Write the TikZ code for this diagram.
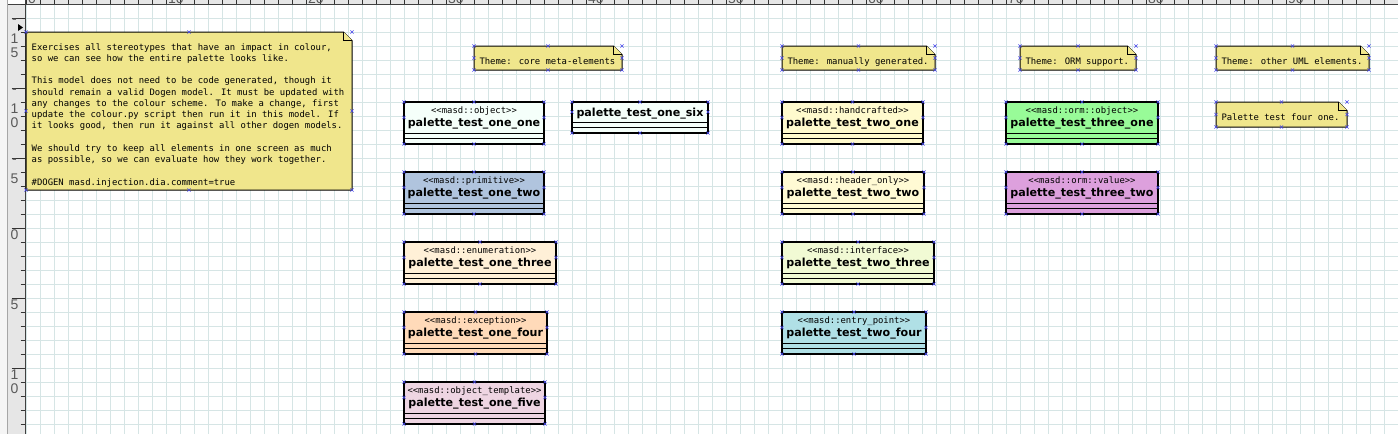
\documentclass[tikz,border=0pt]{standalone}
\usepackage{fontspec}
\usetikzlibrary{calc}
\newfontfamily\diamono{DejaVu Sans Mono}[Ligatures=TeXOff]
\newfontfamily\diasans{DejaVu Sans}
\newfontfamily\rulerfont{Liberation Sans}
\definecolor{gridc}{RGB}{214,229,229}
\definecolor{notec}{RGB}{240,230,140}
\definecolor{cpc}{RGB}{70,70,235}
\definecolor{rulerbg}{RGB}{230,230,230}
\definecolor{cObject}{RGB}{245,255,250}
\definecolor{cPrimitive}{RGB}{176,196,222}
\definecolor{cEnum}{RGB}{255,240,215}
\definecolor{cExcept}{RGB}{255,218,185}
\definecolor{cTemplate}{RGB}{238,213,226}
\definecolor{cHand}{RGB}{255,250,205}
\definecolor{cHeader}{RGB}{255,250,212}
\definecolor{cIface}{RGB}{241,250,212}
\definecolor{cEntry}{RGB}{176,224,230}
\definecolor{cOrmObj}{RGB}{152,251,152}
\definecolor{cOrmVal}{RGB}{221,160,221}
\tikzset{
  classbox/.style={draw=black, line width=1.1pt, inner sep=0pt, outer sep=0pt, rectangle},
  notearea/.style={draw=none, fill=none, inner sep=0pt, outer sep=0pt, rectangle},
  compline/.style={draw=black, line width=1pt},
  stereotxt/.style={font=\diamono\fontsize{8.9}{10}\selectfont, inner sep=0pt, anchor=base},
  nametxt/.style={font=\diasans\bfseries\fontsize{11.1}{13}\selectfont, inner sep=0pt, anchor=base},
  notetxt/.style={font=\diamono\fontsize{8.9}{11.25}\selectfont, inner sep=0pt, align=left},
  notebox/.style={fill=notec, draw=black, line width=1pt, line join=miter},
  cpmark/.style={draw=cpc, line width=0.55pt},
  gridline/.style={draw=gridc, line width=0.8pt},
  ticks/.style={draw=black!80, line width=0.7pt},
  rulerline/.style={draw=black!75, line width=0.9pt},
  rulertxt/.style={font=\rulerfont\fontsize{14}{14}\selectfont, text=black!65, inner sep=0pt},
}
\newcommand{\cpmarkat}[1]{\draw[cpmark] ($(#1)+(-1.6,-1.6)$) -- ($(#1)+(1.6,1.6)$) ($(#1)+(-1.6,1.6)$) -- ($(#1)+(1.6,-1.6)$);}
% #1 id, #2 left, #3 right, #4 top, #5 colour, #6 stereotype, #7 name
\newcommand{\umlclass}[7]{%
  \pgfmathsetmacro{\cw}{#3-#2}%
  \node[classbox, fill=#5, minimum width=\cw pt, minimum height=42pt, anchor=north west] (#1) at (#2,#4) {};
  \draw[compline] ($(#1.north west)+(0,31)$) -- ($(#1.north east)+(0,31)$);
  \draw[compline] ($(#1.north west)+(0,36)$) -- ($(#1.north east)+(0,36)$);
  \node[stereotxt] (#1-st) at ($(#1.north)+(0,11.7)$) {#6};
  \node[nametxt] (#1-nm) at ($(#1.north)+(0,24.7)$) {#7};
  \coordinate (#1-w) at ($(#1.north west)+(0,15.5)$);
  \coordinate (#1-e) at ($(#1.north east)+(0,15.5)$);
  \cpmarkat{#1.north west}\cpmarkat{#1.north}\cpmarkat{#1.north east}
  \cpmarkat{#1-w}\cpmarkat{#1-e}
  \cpmarkat{#1.south west}\cpmarkat{#1.south}\cpmarkat{#1.south east}
}
% #1 id, #2 left, #3 right, #4 top, #5 colour, #6 name
\newcommand{\umlclassplain}[6]{%
  \pgfmathsetmacro{\cw}{#3-#2}%
  \node[classbox, fill=#5, minimum width=\cw pt, minimum height=31pt, anchor=north west] (#1) at (#2,#4) {};
  \draw[compline] ($(#1.north west)+(0,20)$) -- ($(#1.north east)+(0,20)$);
  \draw[compline] ($(#1.north west)+(0,25)$) -- ($(#1.north east)+(0,25)$);
  \node[nametxt] (#1-nm) at ($(#1.north)+(0,14)$) {#6};
  \coordinate (#1-w) at ($(#1.north west)+(0,10)$);
  \coordinate (#1-e) at ($(#1.north east)+(0,10)$);
  \cpmarkat{#1.north west}\cpmarkat{#1.north}\cpmarkat{#1.north east}
  \cpmarkat{#1-w}\cpmarkat{#1-e}
  \cpmarkat{#1.south west}\cpmarkat{#1.south}\cpmarkat{#1.south east}
}
% #1 id, #2 left, #3 right, #4 top, #5 bottom
\newcommand{\dianote}[5]{%
  \pgfmathsetmacro{\nw}{#3-#2}\pgfmathsetmacro{\nh}{#5-#4}%
  \node[notearea, minimum width=\nw pt, minimum height=\nh pt, anchor=north west] (#1) at (#2,#4) {};
  \draw[notebox] (#1.north west) -- ($(#1.north east)+(-8.5,0)$) -- ($(#1.north east)+(0,8.5)$) -- (#1.south east) -- (#1.south west) -- cycle;
  \draw[notebox] ($(#1.north east)+(-8.5,0)$) -- ($(#1.north east)+(-8.5,8.5)$) -- ($(#1.north east)+(0,8.5)$);
  \cpmarkat{#1.north west}\cpmarkat{#1.north}\cpmarkat{#1.north east}
  \cpmarkat{#1.west}\cpmarkat{#1.east}
  \cpmarkat{#1.south west}\cpmarkat{#1.south}\cpmarkat{#1.south east}
}
\begin{document}
\begin{tikzpicture}[x=1pt,y=-1pt]
\useasboundingbox (0,0) rectangle (1398,434);
\fill[white] (0,0) rectangle (1398,434);
% grid
\foreach \k in {0,...,97} \draw[gridline] (26+14*\k,4) -- (26+14*\k,434);
\foreach \k in {0,...,30} \draw[gridline] (25,4+14*\k) -- (1398,4+14*\k);
% rulers
\fill[rulerbg] (8,0) rectangle (1398,4);
\fill[rulerbg] (8,4) rectangle (25,434);
\fill[black!4] (0,0) rectangle (7.5,434);
\draw[black!35, line width=0.8pt] (7.5,0) -- (7.5,434);
\fill[white] (8,0) rectangle (25,4);
\begin{scope}
  \clip (25,0) rectangle (1398,4);
  \foreach \k in {0,...,97} \draw[ticks] (26+14*\k,0) -- (26+14*\k,4);
  \foreach \k/\v in {0/0,1/10,2/20,3/30,4/40,5/50,6/60,7/70,8/80,9/90}
    \node[rulertxt, anchor=base west] (tr\k) at (28+140*\k,3.5) {\v};
\end{scope}
\draw[rulerline] (8,4) -- (1398,4);
\draw[rulerline] (25,0) -- (25,434);
\foreach \k in {0,...,30} \draw[ticks] (20.5,4+14*\k) -- (25,4+14*\k);
\foreach \k in {1,6,11,16,21,26} \draw[ticks] (11.5,4+14*\k) -- (25,4+14*\k);
\foreach \yy/\lab in {18/{-,1,5},88/{-,1,0},158/{-,5},228/{0},298/{5},368/{1,0}} {
  \foreach \ch [count=\i from 0] in \lab {
    \node[rulertxt, anchor=north] (rl-\yy-\i) at (14.5,\yy+1.5+14*\i) {\ch};
  }
}
\fill[black] (18,24) -- (23,27.5) -- (18,31) -- cycle;
% notes
\dianote{n0}{26}{352}{32}{190}
\node[notetxt, anchor=north west] (n0-t) at (31.5,43) {\rule{0pt}{7pt}Exercises all stereotypes that have an impact in colour,\\
so we can see how the entire palette looks like.\\[11.25pt]
This model does not need to be code generated, though it\\
should remain a valid Dogen model. It must be updated with\\
any changes to the colour scheme. To make a change, first\\
update the colour.py script then run it in this model. If\\
it looks good, then run it against all other dogen models.\\[11.25pt]
We should try to keep all elements in one screen as much\\
as possible, so we can evaluate how they work together.\\[11.25pt]
\#DOGEN masd.injection.dia.comment=true};
\dianote{n1}{474}{622}{46}{70}
\node[notetxt, anchor=base west] (n1-t) at ($(n1.north west)+(5.3,18.5)$) {Theme: core meta-elements};
\dianote{n2}{782}{935}{46}{70}
\node[notetxt, anchor=base west] (n2-t) at ($(n2.north west)+(5.3,18.5)$) {Theme: manually generated.};
\dianote{n3}{1020}{1136}{46}{70}
\node[notetxt, anchor=base west] (n3-t) at ($(n3.north west)+(5.3,18.5)$) {Theme: ORM support.};
\dianote{n4}{1216}{1369}{46}{70}
\node[notetxt, anchor=base west] (n4-t) at ($(n4.north west)+(5.3,18.5)$) {Theme: other UML elements.};
\dianote{n5}{1216}{1347}{102}{127}
\node[notetxt, anchor=base west] (n5-t) at ($(n5.north west)+(5.3,18.7)$) {Palette test four one.};
% classes
\umlclass{c11}{404}{544}{102}{cObject}{<<masd::object>>}{palette\_test\_one\_one}
\umlclassplain{c16}{572}{708}{102}{cObject}{palette\_test\_one\_six}
\umlclass{c12}{404}{544}{172}{cPrimitive}{<<masd::primitive>>}{palette\_test\_one\_two}
\umlclass{c13}{404}{556}{242}{cEnum}{<<masd::enumeration>>}{palette\_test\_one\_three}
\umlclass{c14}{404}{547}{312}{cExcept}{<<masd::exception>>}{palette\_test\_one\_four}
\umlclass{c15}{404}{545}{382}{cTemplate}{<<masd::object\_template>>}{palette\_test\_one\_five}
\umlclass{c21}{782}{923}{102}{cHand}{<<masd::handcrafted>>}{palette\_test\_two\_one}
\umlclass{c22}{782}{924}{172}{cHeader}{<<masd::header\_only>>}{palette\_test\_two\_two}
\umlclass{c23}{782}{934}{242}{cIface}{<<masd::interface>>}{palette\_test\_two\_three}
\umlclass{c24}{782}{926}{312}{cEntry}{<<masd::entry\_point>>}{palette\_test\_two\_four}
\umlclass{c31}{1006}{1158}{102}{cOrmObj}{<<masd::orm::object>>}{palette\_test\_three\_one}
\umlclass{c32}{1006}{1158}{172}{cOrmVal}{<<masd::orm::value>>}{palette\_test\_three\_two}
\end{tikzpicture}
\end{document}
